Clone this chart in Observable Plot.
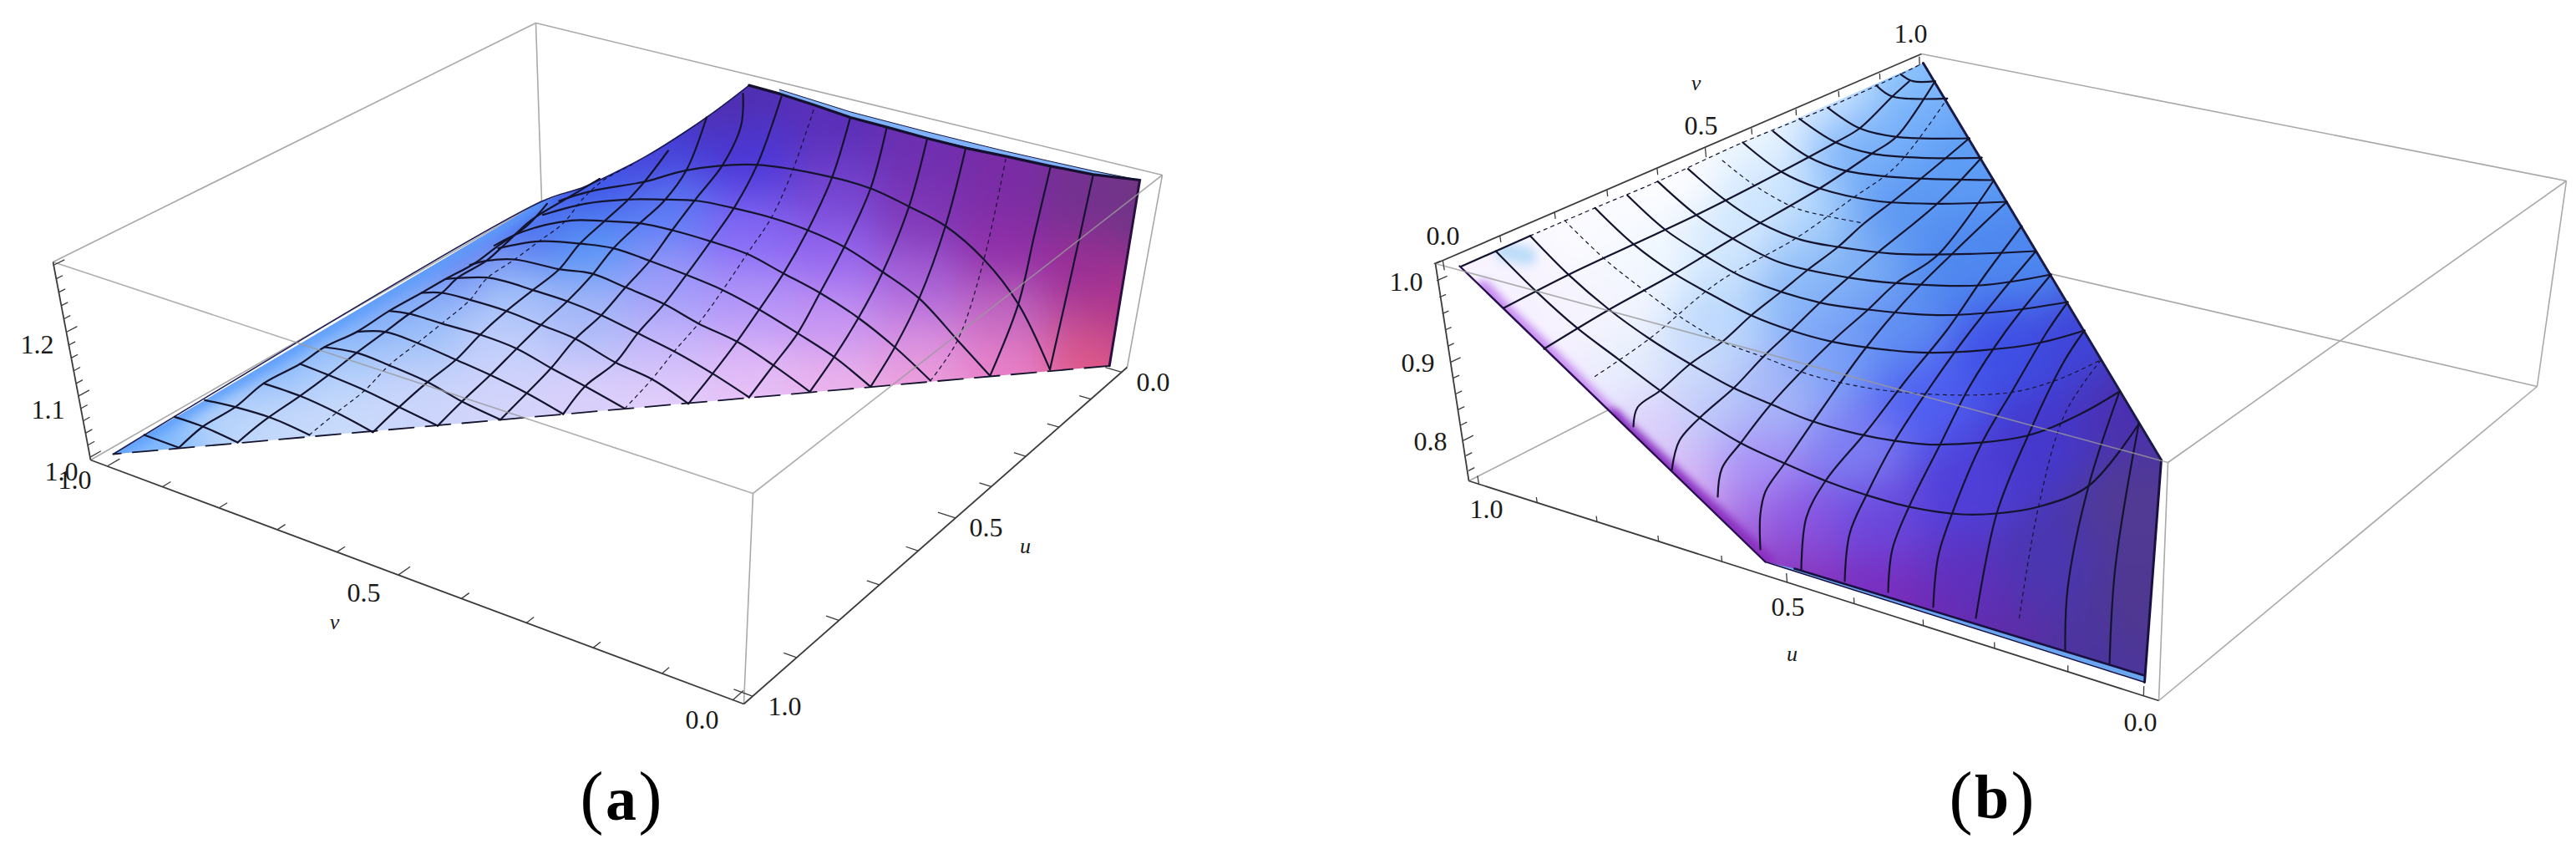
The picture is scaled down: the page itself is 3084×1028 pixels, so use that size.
<!DOCTYPE html>
<html><head><meta charset="utf-8">
<script src="https://cdn.jsdelivr.net/npm/d3@7"></script>
<script src="https://cdn.jsdelivr.net/npm/@observablehq/plot@0.6"></script>
<style>html,body{margin:0;padding:0;background:#fff}svg{display:block}</style>
</head><body><div id="chart"></div>
<script>
// Readings, in picture units or in units of a magnified view
const view = (ox, oy, sx, sy) => pts => pts.map(([x, y]) => [ox + x / sx, oy + y / sy]);
const a1 = view(0, 0, 2.063, 3), a2 = view(700, 40, 2.063, 3);
const b4 = view(1640, 40, 2.063, 3);

// ---------- box (a): corners and value extents
const extA = {u: [-0.02, 1.02], v: [-0.015, 1.03], z: [0.995, 1.305]};
const cornersA = {BL: [1, 1, 0, 108, 550], BF: [1, 0, 0, 890, 842], BR: [0, 0, 0, 1349, 439], BB: [0, 1, 0, 648, 240],
                  TL: [1, 1, 1, 63, 313], TF: [1, 0, 1, 901, 590], TR: [0, 0, 1, 1391, 209], TB: [0, 1, 1, 641, 27]};
const backA = [["TL","TB"],["TB","TR"],["TB","BB"],["BL","BB"],["TR","BR"],["TF","BF"]];
const overA = [["TL","TF"],["TF","TR"]];
const axesA = [["TL","BL"],["BL","BF"],["BF","BR"]];
// ---------- box (b)
const extB = {u: [-0.02, 1.015], v: [-0.015, 1.01], z: [0.745, 1.02]};
const cornersB = {BL: [1, 0, 0, 1758, 575], BF: [0, 0, 0, 2584, 838], BR: [0, 1, 0, 3037, 462], BB: [1, 1, 0, 2311, 294],
                  TL: [1, 0, 1, 1718, 315], TF: [0, 0, 1, 2595, 553], TR: [0, 1, 1, 3072, 216], TB: [1, 1, 1, 2300, 64]};
const backB = [["TB","TR"],["TR","TF"],["TR","BR"],["BF","BR"],["TF","BF"],["BL","BB"],["BB","BR"]];
const overB = [["TL","TF"]];
const axesB = [["TL","BL"],["BL","BF"],["TL","TB"]];

// ---------- tick values
const tenths = [0,0.1,0.2,0.3,0.4,0.5,0.6,0.7,0.8,0.9,1.0];
const zTicksA = [1.0,1.02,1.04,1.06,1.08,1.1,1.12,1.14,1.16,1.18,1.2,1.22,1.24,1.26,1.28,1.3];
const zTicksB = [0.76,0.78,0.8,0.82,0.84,0.86,0.88,0.9,0.92,0.94,0.96,0.98,1.0,1.02];

// ---------- labels
const labelsPlain = [
  ["1.2",44,412],["1.1",57,490],["1.0",73,564],["1.0",89,574],["0.5",435,709],["0.0",840,861],["1.0",939,845],["0.5",1180,631],["0.0",1380,457],
  ["0.0",1727,282],["0.5",2036,150],["1.0",2287,40],["1.0",1683,337],["0.9",1697,434],["0.8",1712,528],["1.0",1779,609],["0.5",2140,726],["0.0",2562,864]];
const labelsItalic = [["v",400,744],["u",1227,653],["v",2030,99],["u",2145,782]];
const captionParens = [["(",708,955],[")",778,955],["(",2347,955],[")",2421,955]];
const captionLetters = [["a",743,957],["b",2384,955]];

// ---------- surface (a)
const edgeTopA = a2([[405,185],[480,215],[565,255],[655,300],[745,335],[845,375],[940,410],[1040,440],[1150,475],[1255,505],[1370,525]]);
const cornerA = a2([[1295,1192]]);
const edgeLeftA = [[135,543],[647,241],...a2([[0,548],[150,440],[300,300],[405,185]])];
const outlineA = [...edgeLeftA, ...edgeTopA.slice(1), ...cornerA];
const ribbonA = a2([[480,200],[655,280],[845,352],[1040,422],[1150,458],[1255,492],[1370,525],[1255,505],[1150,475],[1040,440],[845,375],[655,300],[480,215]]);
const shadesA = [
[150,535,"#8fc0fd"],[190,510,"#7ab6fd"],[250,490,"#b8d4fb"],[250,455,"#8abcfd"],[330,430,"#7fb2fb"],[330,495,"#c3d8fb"],[400,395,"#7fb0fa"],[400,440,"#b0cefb"],[400,490,"#c9dafb"],
[480,350,"#7aa4f7"],[500,400,"#9dc0f9"],[500,470,"#cbd5fb"],[565,305,"#6a88f2"],[600,350,"#a0bff9"],[600,410,"#c3cffb"],[600,480,"#d3d4fb"],
[640,268,"#4f72ee"],[700,225,"#3f55e8"],[700,290,"#5a96f6"],[700,380,"#a8b9f8"],[700,470,"#d9cffb"],[790,180,"#4540d8"],[800,250,"#5c7cf5"],[800,340,"#9d9bf9"],[800,420,"#c9b8fa"],[800,480,"#e3cffb"],
[870,125,"#4f2fb0"],[890,190,"#4b38d8"],[890,280,"#8468f5"],[890,360,"#b295f8"],[890,440,"#deb7f7"],[890,480,"#e9c4f6"],
[1000,150,"#5a2fb8"],[1000,230,"#7444d0"],[1000,300,"#9366ee"],[1000,380,"#c493f3"],[1000,460,"#ebb3ec"],
[1100,185,"#6e2fb0"],[1100,260,"#8038b8"],[1100,340,"#a863d8"],[1100,410,"#d78fe0"],[1100,450,"#ed9fdc"],
[1200,220,"#7a2ca5"],[1200,300,"#8f2fa8"],[1200,370,"#c066c0"],[1200,440,"#e880c8"],
[1300,235,"#74318f"],[1300,330,"#9c2f95"],[1310,400,"#c84f90"],[1315,435,"#e15a88"],[1365,240,"#703585"],[1350,380,"#b0368a"]];
const stripA = [[135,543],[300,446],[480,340],[647,241]];
const ribsA = [
 [...a1([[1380,720],[1420,700],[1474,680]]), ...a2([[150,530],[250,490],[420,470],[610,515],[705,555],[800,620],[890,690],[985,810],[1070,970],[1148,1205]])],
 [...a1([[1340,770],[1444,730]]), ...a2([[100,595],[190,595],[280,600],[365,625],[460,660],[550,705],[640,765],[735,855],[825,950],[920,1100],[1000,1228]])],
 [...a1([[1220,880],[1290,830],[1410,790]]), ...a2([[45,672],[135,680],[215,705],[310,745],[400,790],[490,860],[580,930],[675,1020],[765,1125],[853,1245]])],
 [...a1([[1230,890],[1330,865],[1444,875]]), ...a2([[70,770],[160,815],[250,865],[340,920],[430,990],[525,1075],[615,1160],[705,1267]])],
 [...a1([[1160,950],[1200,935],[1270,930],[1380,965],[1459,980]]), ...a2([[100,910],[195,970],[280,1040],[375,1105],[465,1190],[555,1285]])],
 [...a1([[1100,1000],[1200,995],[1250,1010],[1315,1040],[1400,1080]]), ...a2([[40,1010],[130,1075],[220,1140],[315,1220],[405,1305]])],
 [...a1([[1040,1050],[1090,1050],[1160,1075],[1250,1115],[1335,1165],[1420,1215]]), ...a2([[75,1180],[165,1240],[255,1328]])],
 a1([[960,1115],[1010,1125],[1090,1160],[1185,1200],[1275,1250],[1360,1320],[1444,1385],[1542,1465]]),
 a1([[880,1190],[950,1190],[1030,1230],[1125,1290],[1210,1345],[1300,1410],[1390,1485]]),
 a1([[800,1245],[880,1265],[960,1310],[1055,1370],[1140,1440],[1235,1505]]),
 a1([[740,1305],[810,1345],[900,1400],[985,1460],[1080,1527]]),
 a1([[650,1375],[740,1420],[830,1480],[920,1550]]),
 a1([[505,1435],[580,1460],[671,1500],[763,1560]]),
 a1([[430,1495],[500,1530],[586,1587]]),
 a1([[355,1560],[441,1606]])];
const spokesA = [
 a1([[441,1606],[500,1530],[580,1460],[650,1375],[740,1305],[800,1245],[880,1190],[960,1115],[1040,1050],[1100,1000],[1170,945],[1230,880],[1300,810],[1350,730]]),
 a1([[586,1587],[650,1510],[740,1420],[810,1345],[880,1265],[950,1190],[1010,1125],[1090,1050],[1130,995],[1200,935],[1250,870],[1310,790],[1400,710],[1480,640]]),
 a1([[920,1550],[985,1460],[1055,1370],[1125,1290],[1185,1200],[1250,1115],[1315,1040],[1380,965],[1430,875],[1490,795],[1554,710],[1594,645],[1649,540]]),
 [...a1([[1080,1527],[1140,1440],[1210,1345],[1275,1250],[1335,1165],[1400,1080],[1459,990],[1514,890]]), ...a2([[135,680],[195,600],[250,490],[300,300]])],
 [...a1([[1235,1505],[1300,1410],[1360,1320],[1420,1215],[1484,1130]]), ...a2([[100,910],[160,815],[215,705],[275,590],[340,470],[385,330],[390,215]])],
 [...a1([[1390,1485]]), ...a2([[0,1265],[75,1180],[130,1075],[195,970],[250,865],[310,745],[370,620],[425,470],[485,225]])],
 a2([[255,1328],[315,1220],[375,1105],[430,990],[490,860],[550,705],[610,515],[655,300]]),
 a2([[405,1305],[465,1190],[525,1075],[580,930],[640,765],[705,555],[745,335]]),
 a2([[555,1285],[615,1160],[675,1020],[735,855],[800,620],[845,375]]),
 a2([[705,1267],[765,1125],[825,950],[890,690],[940,410]]),
 a2([[1000,1228],[1070,970],[1110,720],[1150,475]]),
 a2([[1148,1205],[1200,870],[1255,505]])];
const dottedA = [
 a1([[763,1560],[830,1480],[900,1400],[960,1310],[1030,1230],[1090,1160],[1160,1075],[1200,1000],[1270,930],[1330,865],[1390,800],[1440,710],[1490,645],[1560,590]]),
 a2([[98,1345],[165,1240],[220,1140],[280,1040],[340,920],[400,790],[460,660],[510,500],[565,270]]),
 a2([[853,1245],[920,1100],[985,810],[1040,440]])];

// ---------- surface (b)
const outlineB = [[1747,318],[2113,672],[2567,816],[2587,550],[2302,75]];
const ribbonB = [[2113,672],[2567,816],[2567,808],[2148,680]];
const shadesB = [
[1790,320,"#f8f4ff"],[1900,265,"#fbfbff"],[2000,190,"#fdfdff"],[2100,140,"#ecf6ff"],[2200,110,"#cfe6ff"],[2280,90,"#8cc4fc"],
[1800,360,"#f5f0ff"],[1860,400,"#f7f2ff"],[1930,373,"#f4f4fe"],[1965,320,"#f2f8ff"],[2076,307,"#d3e8fe"],[2125,240,"#cfe6ff"],[2173,273,"#a8d0fb"],[2230,170,"#7cb2f9"],[2295,125,"#76b0fa"],
[1880,470,"#f0e8ff"],[1950,440,"#e6effd"],[2028,440,"#cddcfb"],[2060,380,"#bcd9fd"],[2140,340,"#8cb9f8"],[2220,307,"#7fb0f5"],[2270,260,"#5d98f2"],[2350,200,"#5d9cf5"],
[1980,507,"#dcd0fb"],[2050,490,"#bcc8fa"],[2125,473,"#a6b6f8"],[2190,420,"#7ba2f7"],[2270,407,"#5f8ef2"],[2350,310,"#4f88ef"],[2430,310,"#4d87ef"],
[2020,590,"#d8b4f5"],[2100,560,"#a68ef5"],[2222,540,"#7d7df2"],[2300,470,"#4f5ff0"],[2400,420,"#3f50e6"],[2480,410,"#3f45d8"],
[2080,640,"#a868de"],[2150,630,"#8a55e0"],[2250,620,"#6a48dc"],[2350,590,"#4f3fd8"],[2450,520,"#4538cc"],[2540,490,"#4a30b0"],
[2140,690,"#8a36bc"],[2250,710,"#7a2fc0"],[2350,700,"#5f30bd"],[2450,670,"#4a36b0"],[2550,600,"#503a94"],
[2300,755,"#7429b0"],[2400,770,"#5e2da8"],[2500,790,"#4b359e"],[2565,720,"#4f3890"]];
const stripUpperB = [[1775,345],[1800,372],[1850,420],[1930,500]];
const stripLowerB = [[1930,500],[2020,585],[2113,672]];
const blotchB = [[1800,300],[1828,306]];
const ribsB = [
 b4([[1310,145],[1340,170],[1395,170]]),
 b4([[1250,185],[1290,225],[1425,232]]),
 b4([[1130,265],[1210,340],[1300,370],[1480,375]]),
 b4([[1060,305],[1150,390],[1240,430],[1360,445],[1510,445]]),
 b4([[995,350],[1080,440],[1170,490],[1300,515],[1540,525]]),
 [...b4([[920,390],[1015,495],[1110,555],[1250,600],[1400,610]]),[2402,241]],
 [...b4([[785,485],[875,595],[965,680],[1065,740],[1155,765],[1300,790]]),[2370,303],[2437,300]],
 [...b4([[710,530],[805,650],[895,735],[1010,820],[1180,875],[1300,895]]),[2370,341],[2455,328]],
 [...b4([[635,580],[730,705],[825,795],[930,880],[1110,965],[1230,990],[1400,1010]]),[2400,372],[2475,361]],
 [...b4([[555,625],[650,755],[750,860],[860,950],[940,1010],[1040,1065],[1140,1105],[1280,1135],[1390,1145]]),[2430,412],[2495,395]],
 [...b4([[395,725],[490,865],[590,990],[690,1095],[790,1185],[895,1270],[990,1330],[1090,1390],[1200,1435],[1300,1462],[1400,1475]]),[2426,521],[2490,495],[2537,468]],
 [...b4([[310,780],[410,925],[510,1055],[610,1165],[715,1280],[815,1380]]),[2084,530],[2136,554],[2185,575],[2234,592],[2285,606],[2348,615],[2390,614],[2440,606],[2500,581],[2560,507]]];
const spokesB = [
 [[1800,368],[1878,328],[1955,292],[2030,257],[2132,205],[2197,170],[2226,153],[2265,115],[2285,97]],
 [[1848,417],[1926,370],[2004,327],[2074,285],[2178,225],[2241,183],[2270,163],[2316,97]],
 [[1955,510],[1960,487],[1987,467],[2023,435],[2062,408],[2096,377],[2130,350],[2163,323],[2200,295],[2231,267],[2270,237],[2319,197],[2357,165]],
 [[2001,562],[2010,527],[2036,498],[2076,463],[2110,427],[2144,395],[2178,362],[2212,332],[2246,303],[2319,243],[2372,188]],
 [[2056,594],[2061,560],[2084,529],[2120,483],[2193,408],[2236,370],[2270,338],[2319,305],[2386,216]],
 [[2107,657],[2107,615],[2113,588],[2136,554],[2180,490],[2230,420],[2280,360],[2340,300],[2402,241]],
 [[2156,682],[2162,619],[2185,575],[2234,516],[2285,450],[2330,395],[2375,330],[2420,270]],
 [[2208,695],[2214,638],[2234,592],[2268,527],[2310,463],[2350,407],[2395,350],[2437,300]],
 [[2260,708],[2265,657],[2285,606],[2322,532],[2357,463],[2400,397],[2455,328]],
 [[2314,726],[2320,665],[2337,613],[2372,530],[2410,465],[2450,397],[2475,361]],
 [[2365,739],[2390,614],[2427,522],[2470,433],[2495,395]],
 [[2472,777],[2475,703],[2500,581],[2537,468]],
 [[2525,795],[2532,678],[2560,507]],
 b4([[225,835],[395,725]])];
const dottedB = [
 b4([[480,670],[580,810],[680,925],[780,1030],[870,1105],[970,1160],[1100,1230],[1300,1285]]).concat([[2400,470],[2460,455],[2515,430]]),
 b4([[870,455],[950,545],[1050,625],[1130,655],[1220,680]]),
 [[1909,450],[1974,405],[2057,337],[2149,285],[2217,237],[2270,198],[2331,117]],
 [[2417,739],[2440,606],[2472,494],[2515,430]],
 b4([[395,725],[555,625],[710,530],[920,390],[1130,265],[1310,145],[1365,105]])];

// ---------- perspective of each box, solved from its eight corners
function solve(A, b) {
  const n = b.length, M = A.map((r, i) => [...r, b[i]]);
  for (let i = 0; i < n; i++) {
    let p = i; for (let r = i + 1; r < n; r++) if (Math.abs(M[r][i]) > Math.abs(M[p][i])) p = r;
    [M[i], M[p]] = [M[p], M[i]];
    for (let r = 0; r < n; r++) if (r !== i) { const f = M[r][i] / M[i][i]; for (let c = i; c <= n; c++) M[r][c] -= f * M[i][c]; }
  }
  return M.map((r, i) => r[n] / r[i]);
}
function camera(corners, ext) {
  const rows = [], rhs = [];
  for (const [a, b, c, x, y] of Object.values(corners)) {
    const X = x / 1000, Y = y / 1000;
    rows.push([a, b, c, 1, 0, 0, 0, 0, -X * a, -X * b, -X * c]); rhs.push(X);
    rows.push([0, 0, 0, 0, a, b, c, 1, -Y * a, -Y * b, -Y * c]); rhs.push(Y);
  }
  const AtA = Array.from({length: 11}, (_, i) => Array.from({length: 11}, (_, j) => d3.sum(rows, r => r[i] * r[j])));
  const Atb = Array.from({length: 11}, (_, i) => d3.sum(rows, (r, k) => r[i] * rhs[k]));
  const m = solve(AtA, Atb);
  const nu = (e, t) => (t - e[0]) / (e[1] - e[0]);
  return (u, v, z) => {
    const a = nu(ext.u, u), b = nu(ext.v, v), c = nu(ext.z, z), w = m[8] * a + m[9] * b + m[10] * c + 1;
    return [1000 * (m[0] * a + m[1] * b + m[2] * c + m[3]) / w, 1000 * (m[4] * a + m[5] * b + m[6] * c + m[7]) / w];
  };
}
const camA = camera(cornersA, extA), camB = camera(cornersB, extB);
const ticks = (rows) => rows.map(([p, q]) => ({x1: p[0], y1: p[1], x2: q[0], y2: q[1]}));
const major = (t) => Math.abs(t * 2 - Math.round(t * 2)) < 1e-6;
const major10 = (t) => Math.abs(t * 10 - Math.round(t * 10)) < 1e-6;
const uA = extA.u[1], vA0 = extA.v[0], vA1 = extA.v[1], zA = extA.z[0];
const uB = extB.u[1], vB = extB.v[0], zB0 = extB.z[0], zB1 = extB.z[1];
const ticksA = ticks([
  ...tenths.map(t => [camA(uA, t, zA), camA(uA - (major(t) ? 0.024 : 0.016), t, zA)]),
  ...tenths.map(t => [camA(t, vA0, zA), camA(t, vA0 + (major(t) ? 0.026 : 0.018), zA)]),
  ...zTicksA.map(t => [camA(uA, vA1, t), camA(uA - (major10(t) ? 0.02 : 0.012), vA1, t)])]);
const ticksB = ticks([
  ...tenths.map(t => [camB(t, vB, zB0), camB(t, vB, zB0 + (major(t) ? 0.012 : 0.008))]),
  ...tenths.map(t => [camB(uB, t, zB1), camB(uB, t, zB1 - (major(t) ? 0.012 : 0.008))]),
  ...zTicksB.map(t => [camB(uB, vB, t), camB(uB, vB + (major10(t) ? 0.018 : 0.011), t)])]);

// ---------- helpers for marks
const edges = (list, corners) => list.map(([p, q]) => ({x1: corners[p][3], y1: corners[p][4], x2: corners[q][3], y2: corners[q][4]}));
const flat = (lines) => lines.flatMap((pts, i) => pts.map(([x, y]) => ({x, y, i})));
const polyLine = (pts, o) => Plot.line(pts, {x: d => d[0], y: d => d[1], ...o});
const meshLines = (lines, o) => Plot.line(flat(lines), {x: "x", y: "y", z: "i", curve: "catmull-rom", ...o});
const clipTo = (id, poly) => (index, scales, values, dims, ctx, next) => {
  const g = next(index, scales, values, dims, ctx);
  const cp = document.createElementNS("http://www.w3.org/2000/svg", "clipPath");
  cp.setAttribute("id", id);
  const p = document.createElementNS("http://www.w3.org/2000/svg", "path");
  p.setAttribute("d", d3.line()(poly.map(q => [scales.x(q[0]), scales.y(q[1])])) + "Z");
  cp.appendChild(p); g.appendChild(cp);
  g.setAttribute("clip-path", `url(#${id})`);
  return g;
};
const link = (data, o) => Plot.link(data, {x1: "x1", y1: "y1", x2: "x2", y2: "y2", ...o});
const rule = {stroke: "#a9a9a9", strokeWidth: 1.6};
const axisLine = {stroke: "#3c3c3c", strokeWidth: 1.8};
const mesh = {stroke: "#14142e", strokeWidth: 2.2};
const dots = {stroke: "#14142e", strokeWidth: 1.2, strokeDasharray: "4 5"};
const font = {fontFamily: "Liberation Serif", fill: "#1a1a1a"};
const txt = (rows, o) => Plot.text(rows, {x: d => d[1], y: d => d[2], text: d => d[0], ...font, ...o});
const shade = (rows, id, poly, blur) => Plot.voronoi(rows, {x: d => d[0], y: d => d[1], z: null, fill: d => d[2], stroke: d => d[2], imageFilter: `blur(${blur}px)`, render: clipTo(id, poly)});
const glow = (pts, id, poly, color, width, blur) => Plot.line(pts, {x: d => d[0], y: d => d[1], stroke: color, strokeWidth: width, imageFilter: `blur(${blur}px)`, render: clipTo(id, poly)});

const chart = Plot.plot({
  width: 3084, height: 1028, margin: 0,
  x: {domain: [0, 3084], axis: null}, y: {domain: [1028, 0], axis: null},
  color: {type: "identity"},
  marks: [
    link(edges(backA, cornersA), rule),
    link(edges(backB, cornersB), rule),
    link(edges(axesB.slice(2), cornersB), axisLine),
    // surface (a)
    shade(shadesA, "clipA", outlineA, 26),
    glow(stripA, "clipA2", outlineA, "#5b9dfc", 16, 7),
    polyLine(ribbonA, {fill: "#7fb2fb", stroke: "#1a1a40", strokeWidth: 1}),
    polyLine(edgeLeftA, {stroke: "#1c1c58", strokeWidth: 1.6, curve: "catmull-rom"}),
    polyLine(edgeTopA, {stroke: "#14102e", strokeWidth: 3.2}),
    polyLine([edgeTopA[10], cornerA[0]], {stroke: "#2a1040", strokeWidth: 3}),
    polyLine([cornerA[0], edgeLeftA[0]], {stroke: "#14142e", strokeWidth: 1.8, strokeDasharray: "30 14"}),
    meshLines(ribsA, mesh), meshLines(spokesA, mesh), meshLines(dottedA, dots),
    link(edges(overA, cornersA), {stroke: "#9a9a9a", strokeWidth: 1.6, strokeOpacity: 0.8}),
    // surface (b)
    shade(shadesB, "clipB", outlineB, 26),
    glow(stripUpperB, "clipB2", outlineB, "#c48af0", 20, 5),
    glow(stripLowerB, "clipB4", outlineB, "#8a30c0", 22, 5),
    glow(blotchB, "clipB3", outlineB, "#bcdcf8", 22, 6),
    polyLine(ribbonB, {fill: "#6aa5f0", stroke: "none"}),
    polyLine([outlineB[4], outlineB[3]], {stroke: "#1a1a48", strokeWidth: 3}),
    polyLine([outlineB[0], outlineB[1]], {stroke: "#2a1050", strokeWidth: 2.4}),
    polyLine([ribbonB[3], ribbonB[2]], {stroke: "#1a1040", strokeWidth: 2.6}),
    polyLine([outlineB[3], outlineB[2]], {stroke: "#1a1040", strokeWidth: 3}),
    polyLine([ribbonB[0], ribbonB[1]], {stroke: "#1a1040", strokeWidth: 1.4}),
    meshLines(ribsB, mesh), meshLines(spokesB, mesh), meshLines(dottedB, dots),
    link(edges(overB, cornersB), {stroke: "#9a9a9a", strokeWidth: 1.6, strokeOpacity: 0.8}),
    // axes
    link(edges(axesA, cornersA), axisLine),
    link(edges(axesB.slice(0, 2), cornersB), axisLine),
    link(ticksA, {stroke: "#3c3c3c", strokeWidth: 1.3}),
    link(ticksB, {stroke: "#3c3c3c", strokeWidth: 1.3}),
    txt(labelsPlain, {fontSize: 32}),
    txt(labelsItalic, {fontSize: 26, fontStyle: "italic"}),
    txt(captionParens, {fontSize: 84, fill: "#000"}),
    txt(captionLetters, {fontSize: 74, fontWeight: "bold", fill: "#000"})
  ]
});
document.getElementById("chart").appendChild(chart);
</script></body></html>
